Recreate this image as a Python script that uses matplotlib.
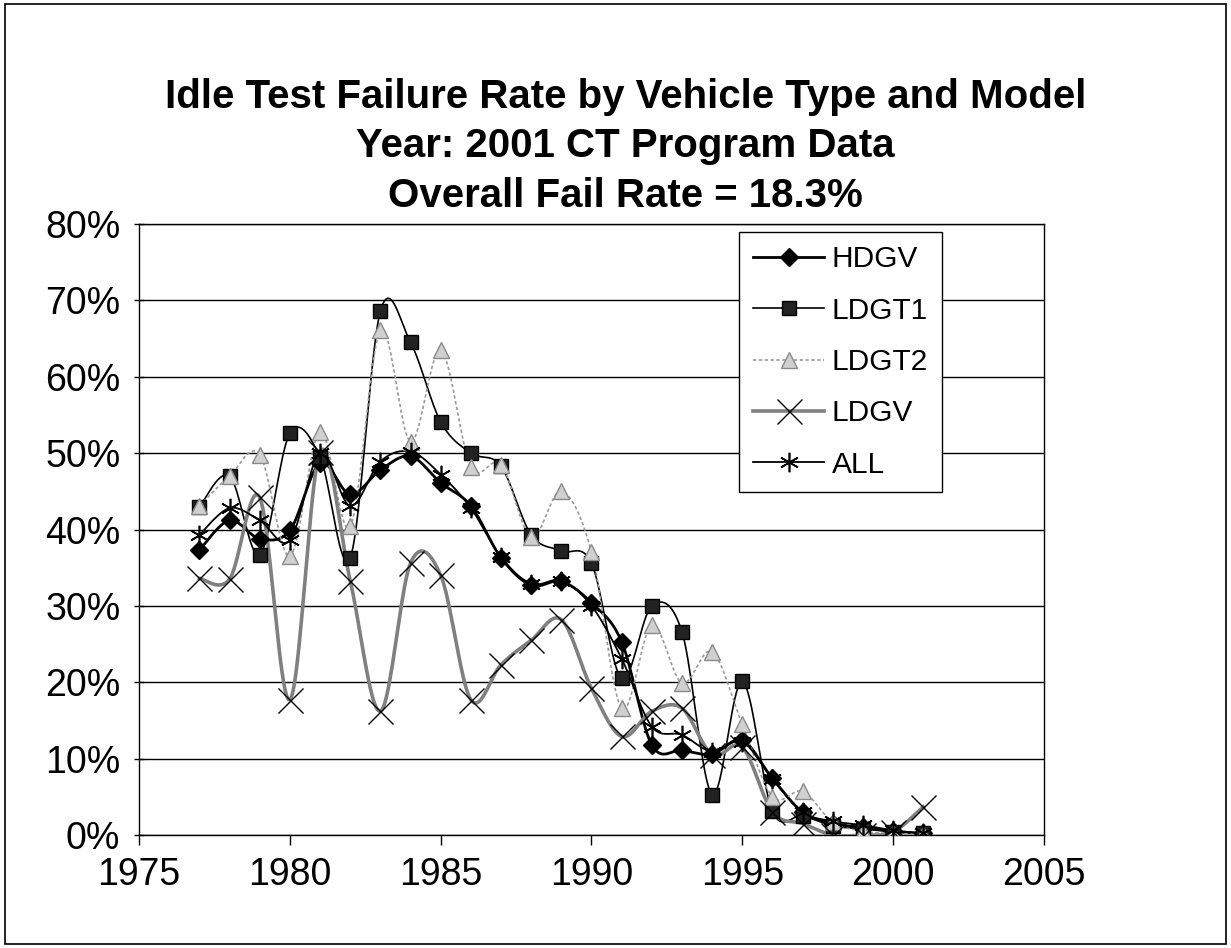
import numpy as np
import matplotlib
matplotlib.use("Agg")
from matplotlib import pyplot as plt
from matplotlib.lines import Line2D
from matplotlib.patches import Rectangle

plt.rcParams['font.family'] = ['Liberation Sans', 'DejaVu Sans']

# model years and fail rates (%)
years = list(range(1977, 2002))
hdgv = [37.3, 41.2, 38.8, 39.9, 48.7, 44.6, 47.8, 49.6, 46.1, 43.1, 36.3, 32.7, 33.2,
        30.4, 25.3, 11.8, 11.1, 10.6, 12.4, 7.4, 3.0, 1.5, 1.0, 0.5, 0.2]
ldgt1 = [43.0, 47.0, 36.7, 52.6, 49.5, 36.3, 68.6, 64.5, 54.1, 50.0, 48.3, 39.3, 37.2,
         35.6, 20.5, 30.0, 26.6, 5.3, 20.1, 3.1, 2.5, 1.2, 0.8, 0.4, 0.2]
ldgt2 = [43.1, 47.0, 49.8, 36.5, 52.8, 40.4, 66.1, 51.5, 63.5, 48.2, 48.5, 39.0, 45.0,
         37.1, 16.6, 27.5, 19.9, 24.0, 14.5, 5.0, 5.7, 1.7, 0.5, 0.2, 0.1]
ldgv = [33.6, 33.5, 44.2, 17.7, 50.2, 33.3, 16.2, 35.6, 34.0, 17.7, 22.3, 25.5, 28.2,
        19.2, 12.9, 16.2, 16.6, 10.5, 11.5, 3.0, 1.5, 0.0, 0.0, 0.4, 3.7]
all_v = [39.3, 42.8, 41.2, 38.6, 50.0, 43.1, 48.9, 50.2, 47.2, 42.8, 36.4, 32.9, 33.3,
         30.0, 23.1, 14.2, 13.1, 10.9, 12.2, 7.3, 3.0, 1.8, 1.3, 0.6, 0.2]

title = "Idle Test Failure Rate by Vehicle Type and Model\nYear: 2001 CT Program Data\nOverall Fail Rate = 18.3%"


def smooth(x, y, n=20):
    # Excel style smoothed line (Catmull-Rom through the points)
    p = np.column_stack([x, y]).astype(float)
    p = np.vstack([p[0], p, p[-1]])
    out = []
    t = np.linspace(0, 1, n, endpoint=False)[:, None]
    for i in range(1, len(p) - 2):
        p0, p1, p2, p3 = p[i - 1], p[i], p[i + 1], p[i + 2]
        seg = 0.5 * (2 * p1 + (-p0 + p2) * t + (2 * p0 - 5 * p1 + 4 * p2 - p3) * t ** 2
                     + (-p0 + 3 * p1 - 3 * p2 + p3) * t ** 3)
        out.append(seg)
    out.append(p[-2][None, :])
    s = np.vstack(out)
    return s[:, 0], s[:, 1]


fig = plt.figure(figsize=(12.31, 9.48), dpi=100)
ax = fig.add_axes([0.113, 0.1192, 0.735, 0.6445])

series = [
    ("HDGV", hdgv, dict(color='black', lw=2.0, ls='-'),
     dict(marker='D', ms=9, mfc='black', mec='black', mew=1)),
    ("LDGT1", ldgt1, dict(color='black', lw=1.2, ls='-'),
     dict(marker='s', ms=10, mfc='#222222', mec='black', mew=1)),
    ("LDGT2", ldgt2, dict(color='#9a9a9a', lw=1.2, ls=(0, (2, 1.5))),
     dict(marker='^', ms=11, mfc='#d0d0d0', mec='#8a8a8a', mew=1)),
    ("LDGV", ldgv, dict(color='#808080', lw=2.6, ls='-'),
     dict(marker='x', ms=18, mfc='none', mec='black', mew=1)),
    ("ALL", all_v, dict(color='black', lw=1.3, ls='-'),
     dict(marker=(6, 2, 0), ms=14, mfc='black', mec='black', mew=1.2)),
]

handles = []
for name, vals, lstyle, mstyle in series:
    sx, sy = smooth(years, vals)
    ax.plot(sx, sy, zorder=3, **lstyle)
    ax.plot(years, vals, ls='none', zorder=4, **mstyle)
    handles.append(Line2D([], [], label=name, **lstyle, **mstyle))

ax.set_xlim(1975, 2005)
ax.set_ylim(0, 80)
ax.set_xticks(range(1975, 2006, 5))
ax.set_yticks(range(0, 81, 10))
ax.set_yticklabels([f"{v}%" for v in range(0, 81, 10)])
ax.yaxis.grid(True, color='black', lw=1.0)
ax.set_axisbelow(True)
for sp in ax.spines.values():
    sp.set_color('black')
    sp.set_linewidth(1.0)
ax.tick_params(axis='both', labelsize=27, colors='black', width=1.0, length=7)
ax.tick_params(axis='y', direction='inout', pad=10)
ax.tick_params(axis='x', direction='out', pad=9)

leg = ax.legend(handles=handles, loc='upper right', bbox_to_anchor=(0.887, 0.987),
                fontsize=21.5, frameon=True, fancybox=False, edgecolor='black',
                framealpha=1, handlelength=2.4, handletextpad=0.25,
                borderpad=0.45, labelspacing=0.78, borderaxespad=0)
leg.get_frame().set_linewidth(1.0)

fig.text(0.508, 0.918, title, ha='center', va='top', fontsize=29,
         fontweight='bold', linespacing=1.38)

fig.patches.append(Rectangle((0.004, 0.004), 0.992, 0.992, transform=fig.transFigure,
                             fill=False, edgecolor='black', lw=1.2))

fig.savefig("out.png", dpi=100)
